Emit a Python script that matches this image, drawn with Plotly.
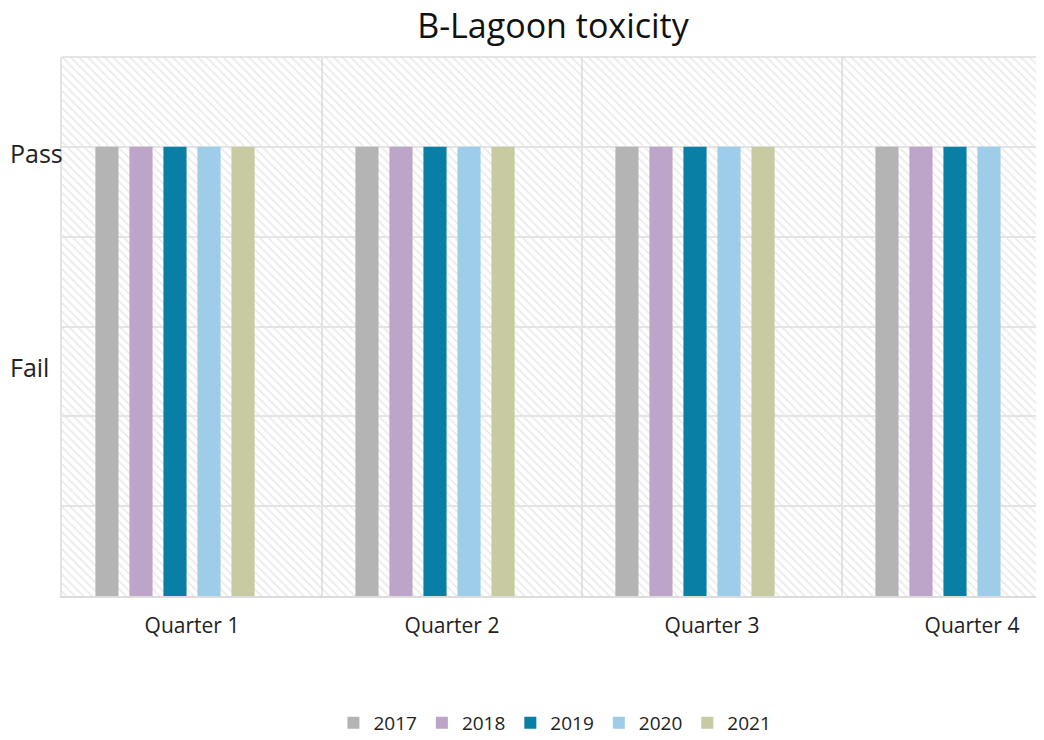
import plotly.graph_objects as go

quarters = ["Quarter 1", "Quarter 2", "Quarter 3", "Quarter 4"]
years = ["2017", "2018", "2019", "2020", "2021", "2022"]
# 2 = Pass, 1 = Fail; None = no result
v2017 = [2, 2, 2, 2]
v2018 = [2, 2, 2, 2]
v2019 = [2, 2, 2, 2]
v2020 = [2, 2, 2, 2]
v2021 = [2, 2, 2, None]
v2022 = [None, None, None, None]
series = [v2017, v2018, v2019, v2020, v2021, v2022]
colors = ["#b4b4b4", "#bda5c9", "#0a7fa6", "#9ecdea", "#c8caa2", "#aaaaaa"]
ylabels = ["Fail", "Pass"]

FONT = "Open Sans"
W, H = 1036, 732          # page adds an 8px body margin
L, T, PW, PH = 54, 49, 978, 539

fig = go.Figure()

# hatched plot background on its own hidden subplot (drawn first, underneath)
fig.add_trace(go.Scatter(
    x=[0, 1, 1, 0, 0], y=[0, 0, 1, 1, 0], mode="lines", fill="toself",
    line=dict(width=0), fillcolor="rgba(255,255,255,0)",
    fillpattern=dict(shape="\\", fgcolor="#d6d6d6", bgcolor="rgba(255,255,255,0)",
                     size=6, solidity=0.3),
    hoverinfo="skip", showlegend=False, xaxis="x", yaxis="y"))

for yr, vals, col in zip(years, series, colors):
    fig.add_trace(go.Bar(
        x=quarters, y=vals, name=yr, marker=dict(color=col, line=dict(width=0)),
        xaxis="x2", yaxis="y2", showlegend=(yr != "2022")))

fig.update_layout(
    width=W, height=H,
    margin=dict(l=L, r=W - L - PW, t=T, b=H - T - PH, autoexpand=False),
    paper_bgcolor="white", plot_bgcolor="rgba(0,0,0,0)",
    title=dict(text="B-Lagoon toxicity", x=545 / W, xanchor="center", y=1 - 18 / H,
               yanchor="middle", font=dict(family=FONT, size=34, color="#111111")),
    barmode="group", bargap=0.215, bargroupgap=0.32,
    xaxis=dict(range=[0, 1], visible=False, fixedrange=True, automargin=False),
    yaxis=dict(range=[0, 1], visible=False, fixedrange=True, automargin=False),
    xaxis2=dict(anchor="y2", domain=[0, 1], range=[-0.5, 3.2615], showgrid=False,
                tickfont=dict(family=FONT, size=21, color="#222222"),
                showline=True, linecolor="#dcdcdc", linewidth=2, ticks="",
                ticklabelstandoff=10, automargin=False),
    yaxis2=dict(anchor="x2", domain=[0, 1], range=[0, 2.4], tickvals=[0, 0.4, 0.8, 1.2, 1.6, 2.0, 2.4],
                showticklabels=False, showgrid=True, gridcolor="#e4e4e4", gridwidth=2,
                zeroline=False, showline=True, linecolor="#e4e4e4", linewidth=2, mirror=False,
                automargin=False),
    legend=dict(orientation="h", x=0.504, xanchor="center", y=-0.20, yanchor="top",
                font=dict(family=FONT, size=19, color="#222222"), itemwidth=30,
                traceorder="normal", tracegroupgap=0),
    showlegend=True,
)

# vertical category separators
for i in range(1, 4):
    fig.add_shape(type="line", xref="x2", yref="y2 domain", x0=i - 0.5, x1=i - 0.5, y0=0, y1=1,
                  line=dict(color="#e4e4e4", width=2), layer="below")
# top border
fig.add_shape(type="line", xref="paper", yref="paper", x0=0, x1=1, y0=1, y1=1,
              line=dict(color="#e6e6e6", width=2), layer="below")

# y labels
for lab, yv in zip(ylabels, [1.02, 1.972]):
    fig.add_annotation(text=lab, xref="paper", yref="y2", x=-54 / PW, y=yv, xanchor="left",
                       yanchor="middle", showarrow=False,
                       font=dict(family=FONT, size=25, color="#222222"))

fig.write_html("out.html")
